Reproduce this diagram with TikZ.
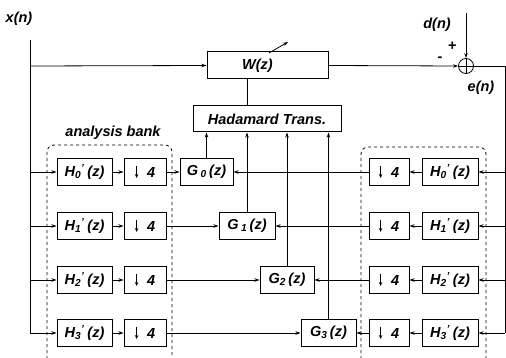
\documentclass[tikz,border=0pt]{standalone}
\usepackage{fontspec}
\setmainfont{Liberation Sans}
\usetikzlibrary{arrows.meta}
\newcommand\Hq[1]{H\textsubscript{#1}\textsuperscript{'}\hspace{0.2em}(z)}
\newcommand\Gq[1]{G\,\textsubscript{#1}\,(z)}
\newcommand\Dq{\tikz[baseline=0pt]\draw[line width=0.9pt,-{Stealth[length=4pt,width=3.5pt]}] (0,0.78em) -- (0,-0.05em);\hspace{0.6em}4}
\begin{document}
\begin{tikzpicture}[x=1pt,y=-1pt,
  txt/.style={font=\fontsize{14.5}{16}\selectfont\bfseries\itshape},
  blk/.style={draw, line width=1pt, minimum height=27pt, inner sep=0pt, txt},
  arr/.style={-{Stealth[length=5pt,width=3.5pt]}, line width=0.8pt},
  ln/.style={line width=0.8pt},
  bank/.style={draw, dashed, line width=0.8pt, rounded corners=7pt}]
\useasboundingbox (0,0) rectangle (506,358);
% banks
\draw[bank] (47,365) -- (47,145) -- (172,145) -- (172,365);
\draw[bank] (361,365) -- (361,147) -- (486,147) -- (486,365);
\node[txt] (ab) at (113,133) {analysis bank};
% top
\node[blk, minimum width=121pt] (W) at (267.5,65.5) {\hspace*{-20pt}W(z)};
\node[blk, minimum width=148pt, minimum height=26pt] (HT) at (267,119) {Hadamard Trans.};
\node[draw, circle, line width=0.8pt, minimum size=15pt, inner sep=0pt] (S) at (466,66) {};
\node[txt] (xn) at (19,19) {x(n)};
\node[txt] (dn) at (437,25) {d(n)};
\node[txt] (en) at (481,88) {e(n)};
\node[txt] (pl) at (452,46) {+};
\node[txt] (mi) at (440,59) {-};
\draw[ln] (S.north) -- (S.south) (S.west) -- (S.east);
\coordinate (xtop) at (30,40);
\coordinate (xw) at (30,66);
\coordinate (dtop) at (466,13);
\coordinate (er) at (505,66);
\draw[arr] (dtop) -- (S.north);
\draw[arr] (W.east) -- (S.west);
\draw[arr] (xw) -- (W.west);
\coordinate (wa1) at (269,53);
\coordinate (wa2) at (288,42);
\draw[arr] (wa1) -- (wa2);
\draw[ln] (HT.north -| 247,0) -- (W.south -| 247,0);
% rows
\foreach \i/\y in {0/172,1/226,2/280,3/333}{
  \node[blk, minimum width=55pt] (LH\i) at (84.5,\y) {\Hq{\i}};
  \node[blk, minimum width=42pt] (LD\i) at (145,\y) {\Dq};
  \node[blk, minimum width=40pt] (RD\i) at (389,\y) {\Dq};
  \node[blk, minimum width=56pt] (RH\i) at (450,\y) {\Hq{\i}};
  \coordinate (LB\i) at (30,\y);
  \coordinate (RB\i) at (505,\y);
  \draw[arr] (LB\i) -- (LH\i.west);
  \draw[arr] (LH\i) -- (LD\i);
  \draw[arr] (RB\i) -- (RH\i.east);
  \draw[arr] (RH\i) -- (RD\i);
}
\node[blk, minimum width=53pt] (G0) at (206.5,172) {\Gq{0}};
\node[blk, minimum width=56pt] (G1) at (247,226) {\Gq{1}};
\node[blk, minimum width=54pt] (G2) at (287,280) {G\textsubscript{2}\,(z)};
\node[blk, minimum width=55pt] (G3) at (328.5,333) {G\textsubscript{3}\,(z)};
\foreach \i in {0,1,2,3}{
  \draw[arr] (LD\i) -- (G\i);
  \draw[arr] (RD\i) -- (G\i);
  \draw[arr] (G\i.north) -- (G\i.north |- HT.south);
}
\draw[ln] (xtop) -- (LB3);
\draw[ln] (S.east) -- (er) -- (RB3);
\end{tikzpicture}
\end{document}
